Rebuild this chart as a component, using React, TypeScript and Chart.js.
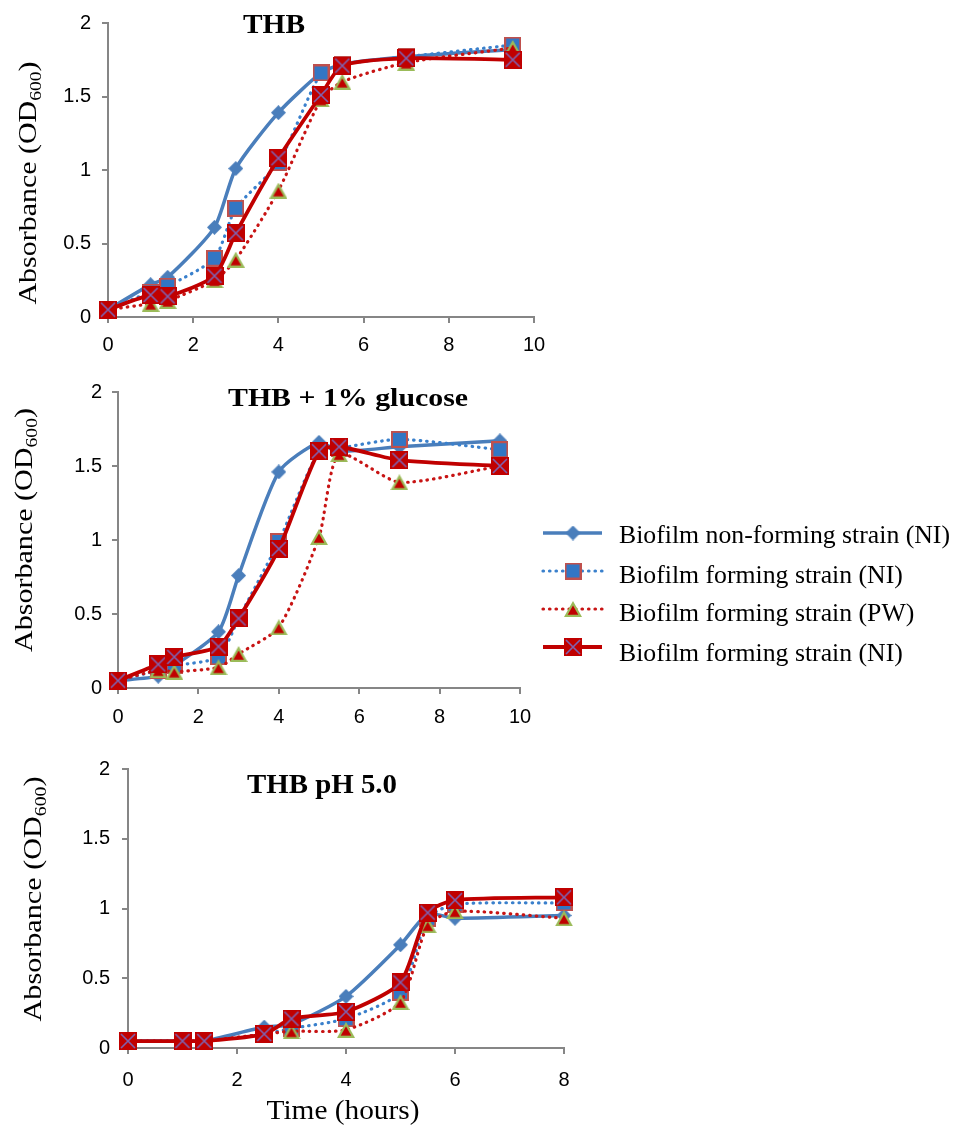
import React, { useEffect, useRef } from "react";
import { Chart, registerables } from "chart.js";

Chart.register(...registerables);

// ---------- data ----------
const SERIES_LABELS = [
  "Biofilm non-forming strain (NI)",
  "Biofilm forming strain (NI)",
  "Biofilm forming strain (PW)",
  "Biofilm forming strain (NI)",
];
const PANEL_TITLES = ["THB", "THB + 1% glucose", "THB pH 5.0"];
const Y_AXIS_TITLE = "Absorbance (OD";
const Y_AXIS_SUB = "600";
const Y_AXIS_END = ")";
const X_AXIS_TITLE = "Time (hours)";

const THB_TIME = [0, 1, 1.4, 2.5, 3, 4, 5, 5.5, 7, 9.5];
const THB_NONFORMING_NI = [0.05, 0.22, 0.27, 0.61, 1.01, 1.39, 1.66, 1.72, 1.77, 1.82];
const THB_FORMING_NI = [0.05, 0.17, 0.21, 0.4, 0.74, 1.05, 1.66, 1.72, 1.77, 1.85];
const THB_FORMING_PW = [0.05, 0.09, 0.11, 0.25, 0.39, 0.86, 1.48, 1.6, 1.73, 1.83];
const THB_FORMING_NI_B = [0.05, 0.15, 0.14, 0.28, 0.57, 1.08, 1.51, 1.71, 1.76, 1.75];

const GLU_TIME = [0, 1, 1.4, 2.5, 3, 4, 5, 5.5, 7, 9.5];
const GLU_NONFORMING_NI = [0.05, 0.08, 0.15, 0.38, 0.76, 1.46, 1.66, 1.6, 1.63, 1.67];
const GLU_FORMING_NI = [0.05, 0.12, 0.15, 0.21, 0.47, 0.99, 1.6, 1.62, 1.68, 1.61];
const GLU_FORMING_PW = [0.05, 0.12, 0.11, 0.14, 0.23, 0.41, 1.02, 1.58, 1.39, 1.5];
const GLU_FORMING_NI_B = [0.05, 0.16, 0.21, 0.28, 0.47, 0.94, 1.6, 1.63, 1.54, 1.5];

const PH_TIME = [0, 1, 1.4, 2.5, 3, 4, 5, 5.5, 6, 8];
const PH_NONFORMING_NI = [0.05, 0.05, 0.05, 0.15, 0.17, 0.37, 0.74, 0.96, 0.93, 0.95];
const PH_FORMING_NI = [0.05, 0.05, 0.05, 0.1, 0.14, 0.21, 0.4, 0.93, 1.03, 1.04];
const PH_FORMING_PW = [0.05, 0.05, 0.05, 0.1, 0.12, 0.13, 0.33, 0.88, 0.98, 0.93];
const PH_FORMING_NI_B = [0.05, 0.05, 0.05, 0.1, 0.21, 0.26, 0.47, 0.97, 1.06, 1.08];

const Y_TICKS = [0, 0.5, 1, 1.5, 2];
const X_TICKS_10 = [0, 2, 4, 6, 8, 10];
const X_TICKS_8 = [0, 2, 4, 6, 8];

// ---------- styles ----------
const SERIF = "'Liberation Serif', 'Times New Roman', serif";
const SANS = "'Liberation Sans', Arial, sans-serif";
const AXIS_COLOR = "#868686";
const X_AXIS_H = 45;

const SERIES_STYLES = [
  { color: "#4a7ebb", width: 3.5, dash: [] as number[], cap: "butt" },
  { color: "#3a80cc", width: 3.2, dash: [0.5, 6], cap: "round" },
  { color: "#c81414", width: 3.2, dash: [0.5, 6], cap: "round" },
  { color: "#c00000", width: 3.8, dash: [] as number[], cap: "butt" },
];

type Panel = {
  canvas: { left: number; top: number; w: number; h: number };
  area: { left: number; right: number; top: number; bottom: number };
  xMax: number;
  xTicks: number[];
  time: number[];
  series: number[][];
  title: string;
  titlePos: { x: number; y: number; w: number; size: number };
  yTitle: { x: number; y: number; len: number };
  yPad: number;
  xPad: number;
  xTitle?: { x: number; y: number; w: number; size: number };
  legend?: boolean;
};

const PANELS: Panel[] = [
  {
    canvas: { left: 0, top: 0, w: 560, h: 370 },
    area: { left: 108, right: 534, top: 19, bottom: 317 },
    xMax: 10,
    xTicks: X_TICKS_10,
    time: THB_TIME,
    series: [THB_NONFORMING_NI, THB_FORMING_NI, THB_FORMING_PW, THB_FORMING_NI_B],
    title: PANEL_TITLES[0],
    titlePos: { x: 274, y: 33, w: 62, size: 28 },
    yTitle: { x: 36, y: 183, len: 243 },
    yPad: 11,
    xPad: 10,
  },
  {
    canvas: { left: 0, top: 370, w: 957, h: 370 },
    area: { left: 118, right: 520, top: 389, bottom: 688 },
    xMax: 10,
    xTicks: X_TICKS_10,
    time: GLU_TIME,
    series: [GLU_NONFORMING_NI, GLU_FORMING_NI, GLU_FORMING_PW, GLU_FORMING_NI_B],
    title: PANEL_TITLES[1],
    titlePos: { x: 348, y: 406, w: 240, size: 25 },
    yTitle: { x: 32, y: 530, len: 244 },
    yPad: 10,
    xPad: 11,
    legend: true,
  },
  {
    canvas: { left: 0, top: 740, w: 600, h: 387 },
    area: { left: 128, right: 564, top: 769, bottom: 1048 },
    xMax: 8,
    xTicks: X_TICKS_8,
    time: PH_TIME,
    series: [PH_NONFORMING_NI, PH_FORMING_NI, PH_FORMING_PW, PH_FORMING_NI_B],
    title: PANEL_TITLES[2],
    titlePos: { x: 322, y: 793, w: 150, size: 27 },
    yTitle: { x: 41, y: 899, len: 245 },
    yPad: 12,
    xPad: 14,
    xTitle: { x: 343, y: 1119, w: 153, size: 28 },
  },
];

const LEGEND = {
  lineX0: 543,
  lineX1: 602,
  markerX: 573,
  lineY: [533, 571, 609, 647],
  textX: 619,
  textY: [543, 583, 621, 661],
  textW: 331,
  size: 26,
};

// ---------- markers ----------
function makeMarker(kind: number): HTMLCanvasElement {
  const c = document.createElement("canvas");
  const ctx = c.getContext("2d") as CanvasRenderingContext2D;
  if (kind === 0) {
    c.width = 15;
    c.height = 15;
    ctx.fillStyle = "#4a7ebb";
    ctx.beginPath();
    ctx.moveTo(7.5, 0);
    ctx.lineTo(15, 7.5);
    ctx.lineTo(7.5, 15);
    ctx.lineTo(0, 7.5);
    ctx.closePath();
    ctx.fill();
  } else if (kind === 1) {
    c.width = 17;
    c.height = 17;
    ctx.fillStyle = "#c0504d";
    ctx.fillRect(0, 0, 17, 17);
    ctx.fillStyle = "#3276c4";
    ctx.fillRect(2, 2, 13, 13);
  } else if (kind === 2) {
    c.width = 18;
    c.height = 16;
    ctx.fillStyle = "#9bbb59";
    ctx.beginPath();
    ctx.moveTo(9, 0);
    ctx.lineTo(18, 16);
    ctx.lineTo(0, 16);
    ctx.closePath();
    ctx.fill();
    ctx.fillStyle = "#c00000";
    ctx.beginPath();
    ctx.moveTo(9, 4.5);
    ctx.lineTo(14.3, 13.8);
    ctx.lineTo(3.7, 13.8);
    ctx.closePath();
    ctx.fill();
  } else {
    c.width = 18;
    c.height = 18;
    ctx.fillStyle = "#c00000";
    ctx.fillRect(0, 0, 18, 18);
    ctx.strokeStyle = "#7f62b0";
    ctx.lineWidth = 1.6;
    ctx.beginPath();
    ctx.moveTo(2, 2);
    ctx.lineTo(16, 16);
    ctx.moveTo(16, 2);
    ctx.lineTo(2, 16);
    ctx.stroke();
  }
  return c;
}

// ---------- text helpers ----------
function drawStretched(
  ctx: CanvasRenderingContext2D,
  text: string,
  cx: number,
  y: number,
  w: number,
  font: string
) {
  ctx.font = font;
  const mw = ctx.measureText(text).width;
  const s = w / mw;
  ctx.save();
  ctx.translate(cx, y);
  ctx.scale(s, 1);
  ctx.textAlign = "center";
  ctx.textBaseline = "alphabetic";
  ctx.fillText(text, 0, 0);
  ctx.restore();
}

function drawYTitle(ctx: CanvasRenderingContext2D, bx: number, cy: number, len: number) {
  const big = `26px ${SERIF}`;
  const small = `17px ${SERIF}`;
  ctx.font = big;
  const w1 = ctx.measureText(Y_AXIS_TITLE).width;
  const w3 = ctx.measureText(Y_AXIS_END).width;
  ctx.font = small;
  const w2 = ctx.measureText(Y_AXIS_SUB).width;
  const total = w1 + w2 + w3;
  const s = len / total;
  ctx.save();
  ctx.translate(bx, cy);
  ctx.rotate(-Math.PI / 2);
  ctx.scale(s, 1);
  ctx.textAlign = "left";
  ctx.textBaseline = "alphabetic";
  let x = -total / 2;
  ctx.font = big;
  ctx.fillText(Y_AXIS_TITLE, x, 0);
  x += w1;
  ctx.font = small;
  ctx.fillText(Y_AXIS_SUB, x, 5);
  x += w2;
  ctx.font = big;
  ctx.fillText(Y_AXIS_END, x, 0);
  ctx.restore();
}

function drawLegend(ctx: CanvasRenderingContext2D, oy: number, markers: HTMLCanvasElement[]) {
  const font = `${LEGEND.size}px ${SERIF}`;
  ctx.font = font;
  const s = LEGEND.textW / ctx.measureText(SERIES_LABELS[0]).width;
  for (let i = 0; i < SERIES_LABELS.length; i++) {
    const st = SERIES_STYLES[i];
    const ly = LEGEND.lineY[i] - oy;
    ctx.save();
    ctx.strokeStyle = st.color;
    ctx.lineWidth = st.width;
    ctx.setLineDash(st.dash);
    ctx.lineCap = st.cap as CanvasLineCap;
    ctx.beginPath();
    ctx.moveTo(LEGEND.lineX0, ly);
    ctx.lineTo(LEGEND.lineX1, ly);
    ctx.stroke();
    ctx.restore();
    const m = markers[i];
    ctx.drawImage(m, LEGEND.markerX - m.width / 2, ly - m.height / 2);
    ctx.save();
    ctx.fillStyle = "#000";
    ctx.font = font;
    ctx.translate(LEGEND.textX, LEGEND.textY[i] - oy);
    ctx.scale(s, 1);
    ctx.textAlign = "left";
    ctx.textBaseline = "alphabetic";
    ctx.fillText(SERIES_LABELS[i], 0, 0);
    ctx.restore();
  }
}

// ---------- chart config ----------
function buildConfig(p: Panel, markers: HTMLCanvasElement[]): any {
  const oy = p.canvas.top;
  const datasets = p.series.map((vals, i) => ({
    label: SERIES_LABELS[i],
    data: p.time.map((t, k) => ({ x: t, y: vals[k] })),
    borderColor: SERIES_STYLES[i].color,
    backgroundColor: SERIES_STYLES[i].color,
    borderWidth: SERIES_STYLES[i].width,
    borderDash: SERIES_STYLES[i].dash,
    borderCapStyle: SERIES_STYLES[i].cap,
    pointStyle: markers[i],
    pointRadius: 9,
    pointHoverRadius: 9,
    pointBorderWidth: 0,
    tension: 0.22,
    fill: false,
    clip: false,
    order: 3 - i,
  }));

  const tickFont = { family: SANS, size: 20 };

  const textPlugin = {
    id: "panelText",
    afterDraw(chart: any) {
      const ctx = chart.ctx as CanvasRenderingContext2D;
      ctx.save();
      ctx.fillStyle = "#000";
      drawStretched(ctx, p.title, p.titlePos.x, p.titlePos.y - oy, p.titlePos.w, `bold ${p.titlePos.size}px ${SERIF}`);
      drawYTitle(ctx, p.yTitle.x, p.yTitle.y - oy, p.yTitle.len);
      if (p.xTitle) {
        drawStretched(ctx, X_AXIS_TITLE, p.xTitle.x, p.xTitle.y - oy, p.xTitle.w, `${p.xTitle.size}px ${SERIF}`);
      }
      if (p.legend) drawLegend(ctx, oy, markers);
      ctx.restore();
    },
  };

  return {
    type: "line",
    data: { datasets },
    options: {
      animation: false,
      responsive: false,
      devicePixelRatio: 1,
      events: [],
      layout: {
        padding: {
          left: 0,
          top: p.area.top - oy,
          right: p.canvas.w - p.area.right,
          bottom: oy + p.canvas.h - p.area.bottom - X_AXIS_H,
        },
      },
      plugins: { legend: { display: false }, tooltip: { enabled: false }, title: { display: false } },
      scales: {
        x: {
          type: "linear",
          min: 0,
          max: p.xMax,
          afterBuildTicks: (s: any) => {
            s.ticks = p.xTicks.map((v) => ({ value: v }));
          },
          afterFit: (s: any) => {
            s.height = X_AXIS_H;
          },
          ticks: {
            font: tickFont,
            color: "#000",
            padding: p.xPad,
            maxRotation: 0,
            autoSkip: false,
            callback: (v: any) => String(v),
          },
          grid: {
            display: true,
            drawOnChartArea: false,
            drawTicks: true,
            tickLength: 6,
            color: AXIS_COLOR,
            lineWidth: 2,
          },
          border: { display: true, color: AXIS_COLOR, width: 2 },
        },
        y: {
          type: "linear",
          min: 0,
          max: 2,
          afterBuildTicks: (s: any) => {
            s.ticks = Y_TICKS.map((v) => ({ value: v }));
          },
          afterFit: (s: any) => {
            s.width = p.area.left;
          },
          ticks: {
            font: tickFont,
            color: "#000",
            padding: p.yPad,
            autoSkip: false,
            callback: (v: any) => String(v),
          },
          grid: {
            display: true,
            drawOnChartArea: false,
            drawTicks: true,
            tickLength: 6,
            color: AXIS_COLOR,
            lineWidth: 2,
          },
          border: { display: true, color: AXIS_COLOR, width: 2 },
        },
      },
    },
    plugins: [textPlugin],
  };
}

export default function App() {
  const r0 = useRef<HTMLCanvasElement>(null);
  const r1 = useRef<HTMLCanvasElement>(null);
  const r2 = useRef<HTMLCanvasElement>(null);
  const refs = [r0, r1, r2];

  useEffect(() => {
    const markers = [0, 1, 2, 3].map((k) => makeMarker(k));
    const charts = PANELS.map((p, i) => new Chart(refs[i].current as HTMLCanvasElement, buildConfig(p, markers)));
    return () => charts.forEach((c) => c.destroy());
  }, []);

  return (
    <div style={{ position: "absolute", left: 0, top: 0, width: 957, height: 1127, background: "#fff" }}>
      {PANELS.map((p, i) => (
        <canvas
          key={i}
          ref={refs[i]}
          width={p.canvas.w}
          height={p.canvas.h}
          style={{ position: "absolute", left: p.canvas.left, top: p.canvas.top, width: p.canvas.w, height: p.canvas.h }}
        />
      ))}
    </div>
  );
}
